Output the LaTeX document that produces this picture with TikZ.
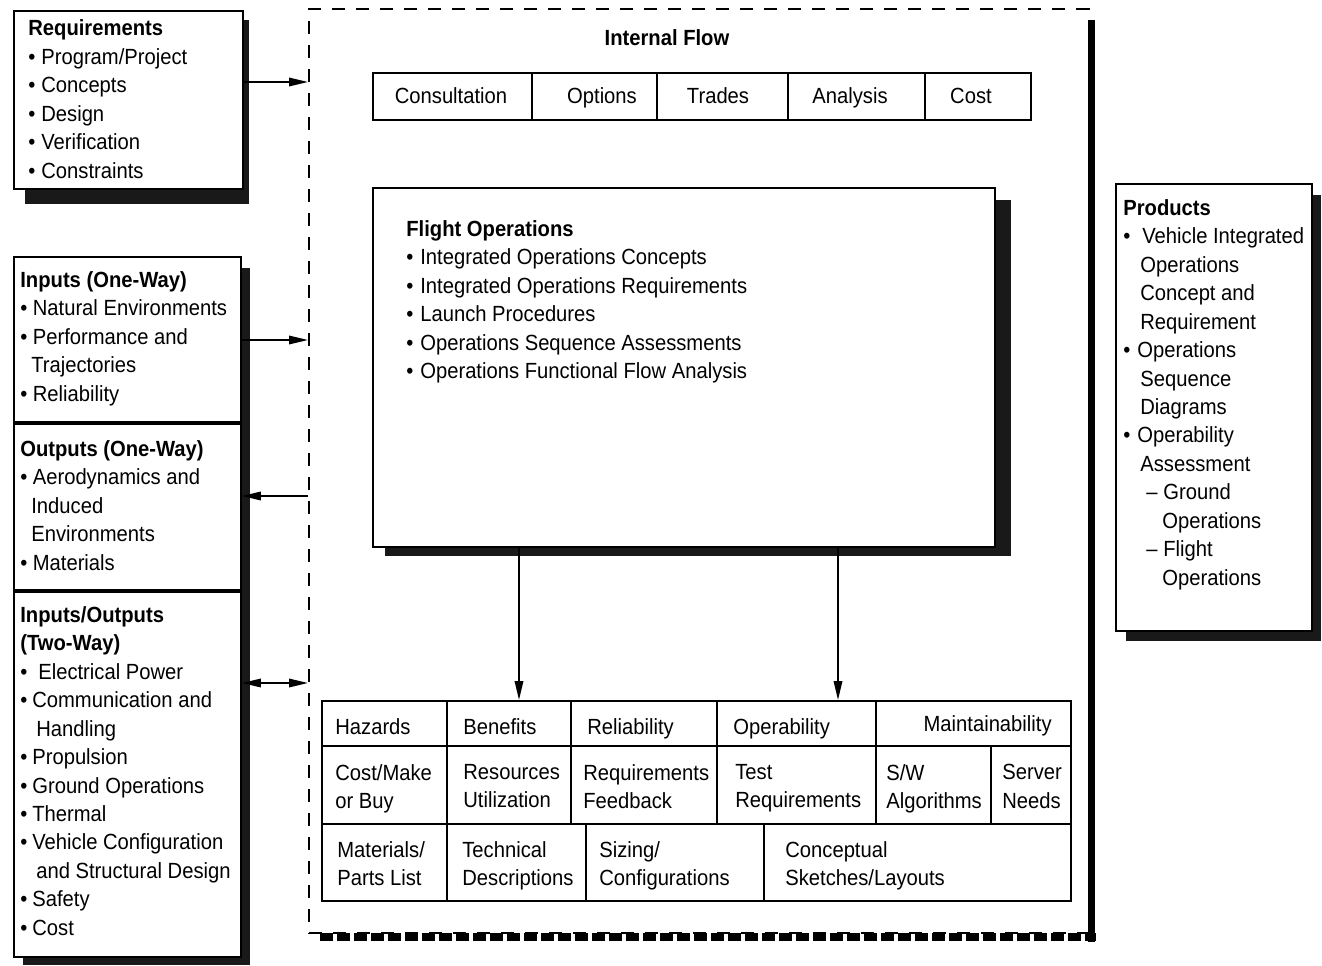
\documentclass[tikz,border=0pt]{standalone}
\usepackage{fontspec}
\setmainfont{Liberation Sans}[FakeStretch=0.92]
\usetikzlibrary{arrows.meta,positioning}
\newcommand{\bl}[1][0.26cm]{\makebox[#1][l]{\textbullet}}
\newcommand{\ind}[1][0.26cm]{\hspace*{#1}}

\begin{document}
\begin{tikzpicture}[x=0.02cm, y=-0.02cm,
    box/.style={draw, line width=1.1pt, fill=white, anchor=north west, inner sep=0pt},
    shadow/.style={fill=black!90},
    txt/.style={font=\fontsize{12.5}{16.2}\selectfont, inner sep=0pt, align=left, anchor=north west},
    arr/.style={line width=1pt, -{Triangle[length=0.38cm, width=0.17cm]}}]
    \useasboundingbox (0,0) rectangle (1322,966);

    % Shadows
    \fill[shadow] (25,20) rectangle (249,204);
    \fill[shadow] (23,268) rectangle (250,965);
    \fill[shadow] (385,200) rectangle (1011,556);
    \fill[shadow] (1126,195) rectangle (1321,641);

    % Dashed frame of the internal flow
    \node[box, fill=none, line width=1.2pt, dash pattern=on 0.26cm off 0.22cm,
        minimum width=15.6cm, minimum height=18.48cm] (flow) at (308,8) {};
    \draw[line width=0.14cm] (1091.5,20) -- (1091.5,942);
    \draw[line width=0.16cm, dash pattern=on 0.26cm off 0.08cm] (320,937) -- (1096,937);

    % Boxes
    \node[box, minimum width=4.58cm, minimum height=3.56cm] (req) at (13,10) {};
    \node[box, minimum width=4.54cm, minimum height=3.3cm] (inone) at (13,256) {};
    \node[box, minimum width=4.54cm, minimum height=3.32cm, below=0pt of inone] (outone) {};
    \node[box, minimum width=4.54cm, minimum height=7.3cm, below=0pt of outone] (inout) {};
    \node[box, minimum width=13.16cm, minimum height=0.94cm] (steps) at (372,72) {};
    \node[box, minimum width=12.44cm, minimum height=7.18cm] (flight) at (372,187) {};
    \node[box, minimum width=14.98cm, minimum height=4cm] (tasks) at (321,700) {};
    \node[box, minimum width=3.92cm, minimum height=8.94cm] (prod) at (1115,183) {};

    % Texts of the boxes
    \node[txt] (reqtxt) at (28,19.5) {\textbf{Requirements}\\\bl Program/Project\\\bl Concepts\\
        \bl Design\\\bl Verification\\\bl Constraints};
    \node[txt] (inonetxt) at (20,271) {\textbf{Inputs (One-Way)}\\\bl[0.25cm]Natural Environments\\
        \bl[0.25cm]Performance and\\\ind[0.22cm]Trajectories\\\bl[0.25cm]Reliability};
    \node[txt] (outonetxt) at (20,440) {\textbf{Outputs (One-Way)}\\\bl[0.25cm]Aerodynamics and\\
        \ind[0.22cm]Induced\\\ind[0.22cm]Environments\\\bl[0.25cm]Materials};
    \node[txt] (inouttxt) at (20,606) {\textbf{Inputs/Outputs}\\\textbf{(Two-Way)}\\
        \bl[0.36cm]Electrical Power\\\bl[0.24cm]Communication and\\\ind[0.32cm]Handling\\
        \bl[0.24cm]Propulsion\\\bl[0.24cm]Ground Operations\\\bl[0.24cm]Thermal\\
        \bl[0.24cm]Vehicle Configuration\\\ind[0.32cm]and Structural Design\\
        \bl[0.24cm]Safety\\\bl[0.24cm]Cost};
    \node[txt] (flighttxt) at (406,220) {\textbf{Flight Operations}\\
        \bl[0.28cm]Integrated Operations Concepts\\\bl[0.28cm]Integrated Operations Requirements\\
        \bl[0.28cm]Launch Procedures\\\bl[0.28cm]Operations Sequence Assessments\\
        \bl[0.28cm]Operations Functional Flow Analysis};
    \node[txt] (prodtxt) at (1123,199) {\textbf{Products}\\\bl[0.38cm]Vehicle Integrated\\
        \ind[0.34cm]Operations\\\ind[0.34cm]Concept and\\\ind[0.34cm]Requirement\\
        \bl[0.28cm]Operations\\\ind[0.34cm]Sequence\\\ind[0.34cm]Diagrams\\
        \bl[0.28cm]Operability\\\ind[0.34cm]Assessment\\
        \ind[0.46cm]\makebox[0.34cm][l]{--}Ground\\\ind[0.78cm]Operations\\
        \ind[0.46cm]\makebox[0.34cm][l]{--}Flight\\\ind[0.78cm]Operations};
    \node[txt, anchor=base] (title) at (667,46) {\textbf{Internal Flow}};

    % Internal flow steps
    \foreach \x in {532,657,788,925}
        \draw[line width=1.1pt] (\x,72) -- (\x,119);
    \foreach \x/\t [count=\i] in {451/Consultation, 602/Options, 718/Trades, 850/Analysis, 971/Cost}
        \node[txt, anchor=base] (st\i) at (\x,104) {\t};

    % Grid of the tasks
    \draw[line width=1.1pt] (321,746) -- (1070,746) (321,824) -- (1070,824);
    \foreach \x in {447,571,717,876}
        \draw[line width=1.1pt] (\x,700) -- (\x,746);
    \foreach \x in {447,571,717,876,991}
        \draw[line width=1.1pt] (\x,746) -- (\x,824);
    \foreach \x in {447,586,764}
        \draw[line width=1.1pt] (\x,824) -- (\x,900);
    \foreach \x/\y/\t [count=\i] in {335/718/Hazards, 463/718/Benefits, 587/718/Reliability,
        733/718/Operability, 335/764/{Cost/Make\\or Buy}, 463/764/{Resources\\Utilization},
        583/764/{Requirements\\Feedback}, 735/764/{Test\\Requirements}, 886/764/{S/W\\Algorithms},
        1002/764/{Server\\Needs}, 337/841/{Materials/\\Parts List}, 462/841/{Technical\\Descriptions},
        599/841/{Sizing/\\Configurations}, 785/841/{Conceptual\\Sketches/Layouts}}
        \node[txt] (tk\i) at (\x,\y) {\t};
    \node[txt, anchor=north east] (tkmaint) at (1052,715) {Maintainability};

    % Connectors
    \coordinate (fr1) at (308,82);
    \coordinate (fr2) at (308,340);
    \coordinate (fr3) at (308,496);
    \coordinate (fr4) at (308,683);
    \coordinate (d1) at (519,0);
    \coordinate (d2) at (838,0);
    \draw[arr] (req.east |- fr1) -- (fr1);
    \draw[arr] (inone.east |- fr2) -- (fr2);
    \draw[arr] (fr3) -- (outone.east |- fr3);
    \draw[arr, {Triangle[length=0.38cm, width=0.17cm]}-{Triangle[length=0.38cm, width=0.17cm]}]
        (inout.east |- fr4) -- (fr4);
    \draw[arr] (flight.south -| d1) -- (tasks.north -| d1);
    \draw[arr] (flight.south -| d2) -- (tasks.north -| d2);
\end{tikzpicture}
\end{document}
